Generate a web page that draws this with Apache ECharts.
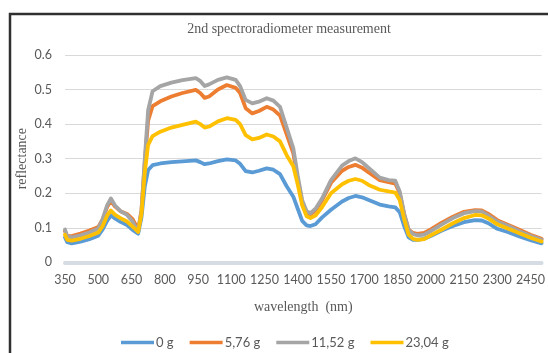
<!DOCTYPE html>
<html>
<head>
<meta charset="utf-8">
<script src="https://cdn.jsdelivr.net/npm/echarts@6/dist/echarts.min.js"></script>
<style>html,body{margin:0;padding:0;background:#fff;}#c{width:548px;height:353px;}</style>
</head>
<body>
<div id="c"></div>
<script>
const wavelengths = [350,360,380,420,460,500,520,540,557,575,600,630,655,680,695,710,725,745,780,830,880,940,960,980,1000,1040,1080,1120,1140,1165,1195,1225,1260,1290,1320,1350,1380,1400,1420,1440,1457,1480,1510,1550,1600,1630,1660,1690,1720,1770,1810,1840,1860,1880,1900,1920,1940,1970,2000,2050,2100,2150,2200,2230,2260,2300,2350,2400,2450,2500];
const s0g = [0.072,0.058,0.055,0.060,0.067,0.077,0.095,0.120,0.136,0.127,0.117,0.108,0.094,0.083,0.130,0.220,0.267,0.281,0.286,0.290,0.292,0.295,0.290,0.284,0.286,0.293,0.298,0.295,0.285,0.264,0.260,0.265,0.272,0.268,0.255,0.220,0.190,0.155,0.120,0.107,0.105,0.110,0.130,0.152,0.176,0.186,0.192,0.188,0.180,0.167,0.162,0.159,0.145,0.105,0.072,0.065,0.065,0.068,0.076,0.092,0.105,0.116,0.122,0.121,0.113,0.097,0.087,0.075,0.064,0.055];
const s576g = [0.090,0.076,0.076,0.083,0.092,0.102,0.125,0.160,0.178,0.162,0.148,0.140,0.125,0.095,0.150,0.290,0.410,0.452,0.466,0.480,0.490,0.499,0.490,0.476,0.480,0.500,0.513,0.505,0.490,0.446,0.431,0.438,0.450,0.442,0.425,0.370,0.315,0.240,0.172,0.143,0.138,0.150,0.180,0.230,0.265,0.276,0.282,0.274,0.260,0.238,0.232,0.228,0.200,0.140,0.095,0.085,0.082,0.085,0.095,0.115,0.132,0.146,0.151,0.150,0.140,0.122,0.108,0.094,0.080,0.068];
const s1152g = [0.095,0.075,0.072,0.078,0.086,0.098,0.125,0.165,0.185,0.165,0.148,0.137,0.118,0.088,0.150,0.300,0.440,0.495,0.510,0.520,0.527,0.533,0.525,0.510,0.515,0.528,0.535,0.528,0.510,0.470,0.460,0.465,0.475,0.468,0.450,0.390,0.330,0.250,0.180,0.148,0.142,0.155,0.185,0.238,0.280,0.293,0.301,0.290,0.273,0.245,0.238,0.236,0.205,0.140,0.095,0.082,0.078,0.080,0.090,0.110,0.128,0.142,0.148,0.147,0.135,0.118,0.105,0.090,0.077,0.065];
const s2304g = [0.080,0.065,0.063,0.068,0.076,0.086,0.105,0.135,0.150,0.138,0.128,0.118,0.103,0.088,0.140,0.260,0.340,0.365,0.378,0.390,0.398,0.407,0.400,0.390,0.393,0.408,0.417,0.412,0.400,0.368,0.356,0.360,0.370,0.364,0.350,0.310,0.278,0.225,0.165,0.133,0.128,0.135,0.160,0.200,0.226,0.236,0.241,0.236,0.224,0.210,0.205,0.202,0.180,0.125,0.080,0.068,0.065,0.067,0.078,0.095,0.113,0.128,0.137,0.136,0.127,0.110,0.097,0.084,0.071,0.060];
const seriesNames = ['0 g','5,76 g','11,52 g','23,04 g'];
const seriesColors = ['#5B9BD5','#ED7D31','#A5A5A5','#FFC000'];
const xTickLabels = [350,500,650,800,950,1100,1250,1400,1550,1700,1850,2000,2150,2300,2450];
const yTicks = [0,0.1,0.2,0.3,0.4,0.5,0.6];

const seriesData = [s0g, s576g, s1152g, s2304g];
const chart = echarts.init(document.getElementById('c'), null, {renderer:'canvas'});
const sansFont = 'Lato';
const serifFont = '"Liberation Serif", "Times New Roman", serif';
chart.setOption({
  animation: false,
  backgroundColor: '#fff',
  title: {
    text: '2nd spectroradiometer measurement',
    left: 284, top: 17, textAlign: 'center',
    textStyle: {fontFamily: serifFont, fontSize: 14, fontWeight: 'normal', color: '#595959'}
  },
  graphic: [{
    type: 'rect', z: -1, silent: true,
    shape: {x: 10, y: 14, width: 700, height: 500},
    style: {fill: 'none', stroke: '#303030', lineWidth: 2.5}
  }],
  legend: {
    left: 121, top: 336, padding: 0,
    icon: 'rect', itemWidth: 33, itemHeight: 3.5, itemGap: 16,
    data: seriesNames,
    textStyle: {fontFamily: sansFont, fontSize: 13, color: '#595959', padding: [0,0,0,-3]}
  },
  grid: {left: 65, right: 6, top: 55, bottom: 90.7, containLabel: false},
  xAxis: {
    type: 'value', min: 350, max: 2500,
    name: 'wavelength  (nm)', nameLocation: 'middle', nameGap: 38, nameMoveOverlap: false,
    nameTextStyle: {fontFamily: serifFont, fontSize: 14, color: '#595959'},
    axisLine: {show: true, lineStyle: {color: '#D6DCE4', width: 4}},
    axisTick: {show: false},
    splitLine: {show: false},
    axisLabel: {customValues: xTickLabels, margin: 11, fontFamily: sansFont, fontSize: 12.5, color: '#595959',
      formatter: v => String(v)}
  },
  yAxis: {
    type: 'value', min: 0, max: 0.6, interval: 0.1,
    name: 'reflectance', nameLocation: 'middle', nameGap: 36, nameMoveOverlap: false,
    nameTextStyle: {fontFamily: serifFont, fontSize: 14, color: '#595959'},
    axisLine: {show: false}, axisTick: {show: false},
    splitLine: {lineStyle: {color: '#D9D9D9', width: 1}},
    axisLabel: {margin: 13, fontFamily: sansFont, fontSize: 12.5, color: '#595959',
      formatter: v => (yTicks.indexOf(Math.round(v*10)/10) >= 0 ? (v === 0 ? '0' : v.toFixed(1)) : '')}
  },
  series: seriesNames.map((n, i) => ({
    name: n, type: 'line', showSymbol: false, symbol: 'none',
    data: wavelengths.map((w, k) => [w, seriesData[i][k]]),
    lineStyle: {color: seriesColors[i], width: 3.8, cap: 'round', join: 'round'},
    itemStyle: {color: seriesColors[i]},
    z: 2 + i
  }))
});
</script>
</body>
</html>
